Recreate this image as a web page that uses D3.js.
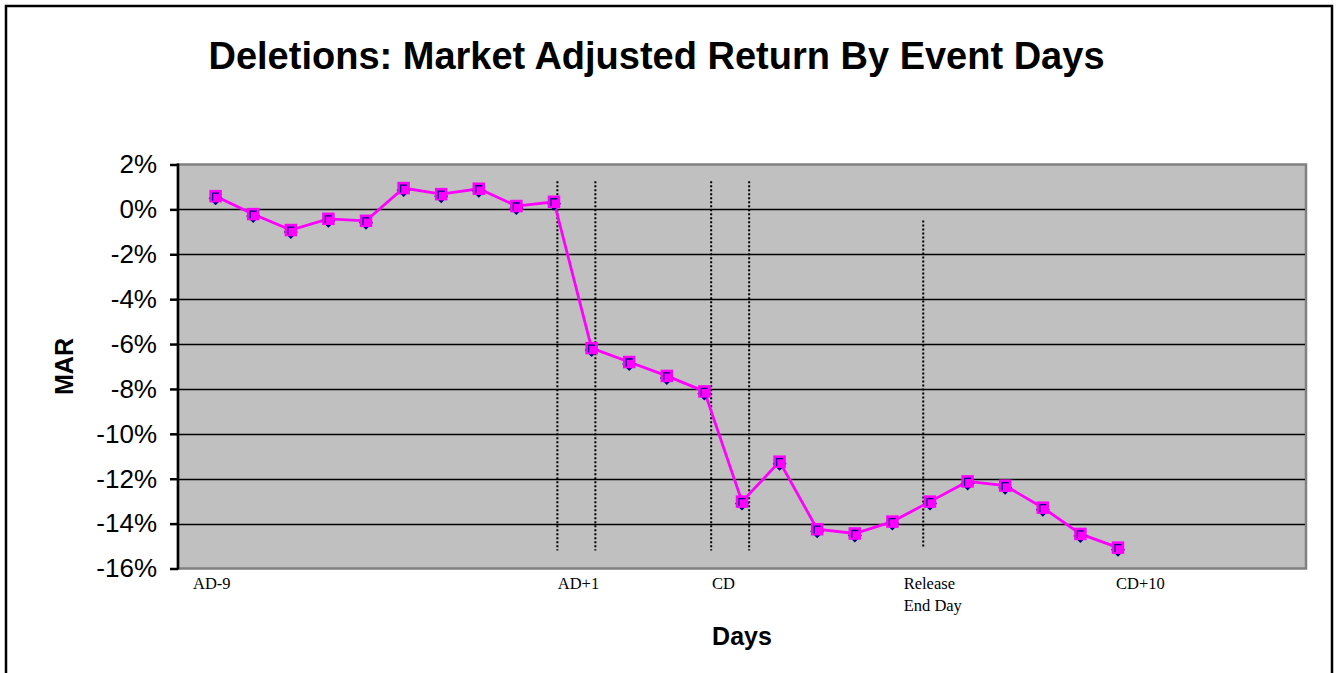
<!DOCTYPE html>
<html>
<head>
<meta charset="utf-8">
<script src="https://cdn.jsdelivr.net/npm/d3@7"></script>
<style>
  body { margin: 0; background: #fff; }
  svg { display: block; }
</style>
</head>
<body>
<div id="chart"></div>
<script>
// MAR values (%) by event day
var mar = [0.59, -0.21, -0.92, -0.42, -0.51, 0.95, 0.68, 0.92, 0.15, 0.34,
           -6.18, -6.80, -7.42, -8.11, -13.02, -11.24, -14.25, -14.44, -13.91, -13.02,
           -12.12, -12.31, -13.29, -14.46, -15.07];
var yTicks = [2, 0, -2, -4, -6, -8, -10, -12, -14, -16];
// x labels: text lines and day position where the label starts
var dayLabels = [
  {lines: ['AD-9'], at: -0.6},
  {lines: ['AD+1'], at: 9.1},
  {lines: ['CD'], at: 13.2},
  {lines: ['Release', 'End Day'], at: 18.3},
  {lines: ['CD+10'], at: 23.95}
];
// dotted event markers: day position, top and bottom in %
var eventLines = [
  {at: 9.09, top: 1.25, bottom: -15.2},
  {at: 10.1, top: 1.25, bottom: -15.2},
  {at: 13.18, top: 1.25, bottom: -15.2},
  {at: 14.19, top: 1.25, bottom: -15.2},
  {at: 18.82, top: -0.5, bottom: -15.1}
];

var W = 1337, H = 673;
var plot = {left: 178, top: 164.5, right: 1306, bottom: 568.5};

var svg = d3.select('#chart').append('svg')
    .attr('width', W)
    .attr('height', H);

// outer chart border
svg.append('rect')
    .attr('x', 6).attr('y', 6)
    .attr('width', 1326).attr('height', 700)
    .attr('fill', '#fff')
    .attr('stroke', '#000')
    .attr('stroke-width', 2.5);

var x = d3.scaleLinear().domain([-1, 29]).range([plot.left, plot.right]);
var y = d3.scaleLinear().domain([-16, 2]).range([plot.bottom, plot.top]);

// plot area
svg.append('rect')
    .attr('x', plot.left).attr('y', plot.top)
    .attr('width', plot.right - plot.left).attr('height', plot.bottom - plot.top)
    .attr('fill', '#c0c0c0')
    .attr('stroke', '#808080')
    .attr('stroke-width', 2.5);

// gridlines
svg.append('g').selectAll('line')
    .data(yTicks.filter(function(d){ return d < 2 && d > -16; }))
    .enter().append('line')
        .attr('x1', plot.left).attr('x2', plot.right - 1)
        .attr('y1', function(d){ return Math.round(y(d)) + 0.5; })
        .attr('y2', function(d){ return Math.round(y(d)) + 0.5; })
        .attr('stroke', '#000')
        .attr('stroke-width', 1.6);

// y axis
var yAxis = svg.append('g')
    .attr('transform', 'translate(' + plot.left + ',0)')
    .call(d3.axisLeft(y).tickValues(yTicks).tickSize(8).tickPadding(13)
        .tickFormat(function(d){ return d + '%'; }));
yAxis.select('.domain')
    .attr('d', 'M0,' + (plot.top - 1) + 'V' + (plot.bottom + 1))
    .attr('stroke', '#000')
    .attr('stroke-width', 2.5);
yAxis.selectAll('.tick line').attr('stroke', '#000').attr('stroke-width', 2.5);
yAxis.selectAll('.tick text')
    .attr('fill', '#000')
    .style('font-family', 'Liberation Sans, Arial, sans-serif')
    .style('font-size', '26px');

// dotted event lines
svg.append('g').selectAll('line')
    .data(eventLines)
    .enter().append('line')
        .attr('x1', function(d){ return x(d.at); })
        .attr('x2', function(d){ return x(d.at); })
        .attr('y1', function(d){ return y(d.top); })
        .attr('y2', function(d){ return y(d.bottom); })
        .attr('stroke', '#000')
        .attr('stroke-width', 2)
        .attr('stroke-dasharray', '2,2');

// series line
svg.append('path')
    .datum(mar)
    .attr('fill', 'none')
    .attr('stroke', '#ff00ff')
    .attr('stroke-width', 2.8)
    .attr('d', d3.line()
        .x(function(d, i){ return x(i); })
        .y(function(d){ return y(d); }));

// markers: navy diamond behind a magenta square
var marks = svg.append('g').selectAll('g')
    .data(mar)
    .enter().append('g')
        .attr('transform', function(d, i){ return 'translate(' + x(i) + ',' + y(d) + ')'; });
marks.append('path')
    .attr('d', 'M0,-5L7,2L0,9L-7,2Z')
    .attr('fill', '#000080');
marks.append('rect')
    .attr('x', -5.5).attr('y', -5.5)
    .attr('width', 11).attr('height', 11)
    .attr('fill', '#ff00ff')
    .attr('stroke', '#ff00ff')
    .attr('stroke-width', 1.5);
marks.append('path')
    .attr('d', 'M-3,4.5V-3H3.5')
    .attr('fill', 'none')
    .attr('stroke', '#000080')
    .attr('stroke-width', 1.3);

// x category labels
var lbl = svg.append('g').selectAll('text')
    .data(dayLabels)
    .enter().append('text')
        .attr('x', function(d){ return x(d.at); })
        .attr('y', 589)
        .attr('fill', '#000')
        .style('font-family', 'Liberation Serif, Times New Roman, serif')
        .style('font-size', '16.5px');
lbl.selectAll('tspan')
    .data(function(d){ return d.lines.map(function(t){ return {t: t, at: d.at}; }); })
    .enter().append('tspan')
        .attr('x', function(d){ return x(d.at); })
        .attr('dy', function(d, i){ return i ? 22 : 0; })
        .text(function(d){ return d.t; });

// title
svg.append('text')
    .attr('x', 656.5)
    .attr('y', 69)
    .attr('text-anchor', 'middle')
    .style('font-family', 'Liberation Sans, Arial, sans-serif')
    .style('font-weight', 'bold')
    .style('font-size', '38px')
    .text('Deletions: Market Adjusted Return By Event Days');

// axis titles
svg.append('text')
    .attr('x', (plot.left + plot.right) / 2)
    .attr('y', 645)
    .attr('text-anchor', 'middle')
    .style('font-family', 'Liberation Sans, Arial, sans-serif')
    .style('font-weight', 'bold')
    .style('font-size', '25px')
    .text('Days');

svg.append('text')
    .attr('transform', 'translate(73,' + ((plot.top + plot.bottom) / 2) + ') rotate(-90)')
    .attr('text-anchor', 'middle')
    .style('font-family', 'Liberation Sans, Arial, sans-serif')
    .style('font-weight', 'bold')
    .style('font-size', '25px')
    .text('MAR');
</script>
</body>
</html>
